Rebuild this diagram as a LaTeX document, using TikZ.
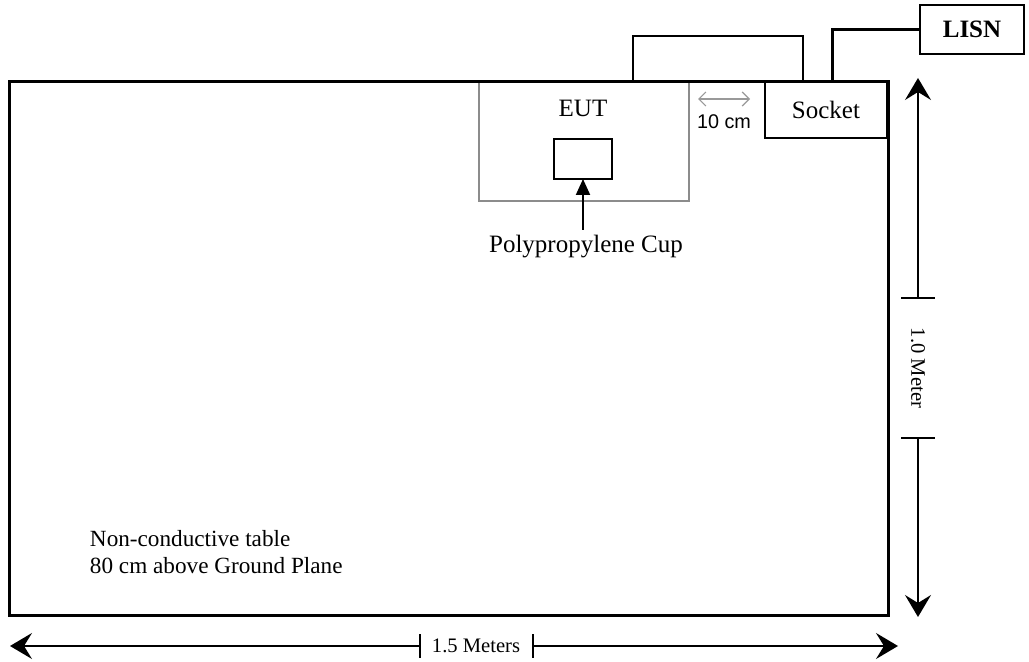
\documentclass[tikz,border=0pt]{standalone}
\usepackage{fontspec}
\setmainfont{Liberation Serif}
\newfontfamily\arialfont{Liberation Sans}
\usetikzlibrary{arrows.meta, positioning, calc}

\begin{document}
\begin{tikzpicture}[
    x=0.5pt, y=-0.5pt,
    every node/.style={inner sep=0pt, outer sep=0pt},
    box/.style={rectangle, draw=black, line width=1pt, anchor=north west},
    tablebox/.style={box, line width=1.5pt},
    eutbox/.style={box, draw=black!45, line width=0.6pt},
    serif13/.style={font=\fontsize{12.5}{14}\selectfont},
    dimtext/.style={font=\fontsize{10.3}{12}\selectfont},
    cable/.style={line width=0.8pt},
    power/.style={line width=1.5pt},
    dimline/.style={line width=0.8pt, -{Stealth[length=11pt, width=13pt, inset=4pt]}},
    dimtick/.style={line width=0.8pt},
    cuparrow/.style={line width=1pt, -{Triangle[length=8pt, width=7pt]}},
    gaparrow/.style={draw=black!40, line width=0.6pt, {Straight Barb[length=3.5pt, width=7pt]}-{Straight Barb[length=3.5pt, width=7pt]}}
]
\useasboundingbox (0,0) rectangle (1029,662);

% EUT on the table
\node (eut) [eutbox, minimum width=105pt, minimum height=59.5pt] at (479,82) {};
\node (table) [tablebox, minimum width=439.5pt, minimum height=267pt] at (9,82) {};
\node (cup) [box, minimum width=29pt, minimum height=20pt] at (554,139) {};
\node (euttext) [serif13, anchor=base] at (583,117) {EUT};
\node (cuptext) [serif13, anchor=base] at (586,253) {Polypropylene Cup};
\draw [cuparrow] ([yshift=3pt]cuptext.north -| cup.south) -- (cup.south);

% Socket and LISN
\node (socket) [box, serif13, minimum width=61pt, minimum height=28pt] at (765,82) {Socket};
\node (lisn) [box, font=\fontsize{12.5}{14}\selectfont\bfseries, minimum width=52pt, minimum height=24.5pt] at (920,5) {LISN};

% 10 cm spacing
\draw [gaparrow] ($(eut.north east)+(9,17)$) -- ($(socket.north west)+(-15,17)$);
\node (gaptext) [font=\arialfont\fontsize{9.9}{12}\selectfont, anchor=base] at (724,129) {10 cm};

% Cables
\coordinate (eutplug) at ($(eut.north west)+(154,0)$);
\coordinate (sockplug) at ($(socket.north west)+(38,0)$);
\coordinate (sockout) at ($(socket.north west)+(67,0)$);
\draw [cable] (eutplug) -- ++(0,-46) -| (sockplug);
\draw [power] (sockout) |- (lisn.west);

% Table note
\node (note) [font=\fontsize{11.6}{13.5}\selectfont, align=left, anchor=north west] at (90,530) {Non-conductive table\\80 cm above Ground Plane};

% 1.0 Meter
\coordinate (vtop) at (918,78);
\coordinate (vbot) at (918,617);
\coordinate (vtick1) at (918,298);
\coordinate (vtick2) at (918,438);
\node (vtext) [dimtext, rotate=-90] at (918,368) {1.0 Meter};
\draw [dimline] (vtick1) -- (vtop);
\draw [dimline] (vtick2) -- (vbot);
\draw [dimtick] ([xshift=-8.5pt]vtick1) -- ([xshift=8.5pt]vtick1);
\draw [dimtick] ([xshift=-8.5pt]vtick2) -- ([xshift=8.5pt]vtick2);

% 1.5 Meters
\coordinate (hleft) at (10,646);
\coordinate (hright) at (898,646);
\coordinate (htick1) at (420,646);
\coordinate (htick2) at (533,646);
\node (htext) [dimtext] at (476,646) {1.5 Meters};
\draw [dimline] (htick1) -- (hleft);
\draw [dimline] (htick2) -- (hright);
\draw [dimtick] ([yshift=-6pt]htick1) -- ([yshift=6pt]htick1);
\draw [dimtick] ([yshift=-6pt]htick2) -- ([yshift=6pt]htick2);

\end{tikzpicture}
\end{document}
